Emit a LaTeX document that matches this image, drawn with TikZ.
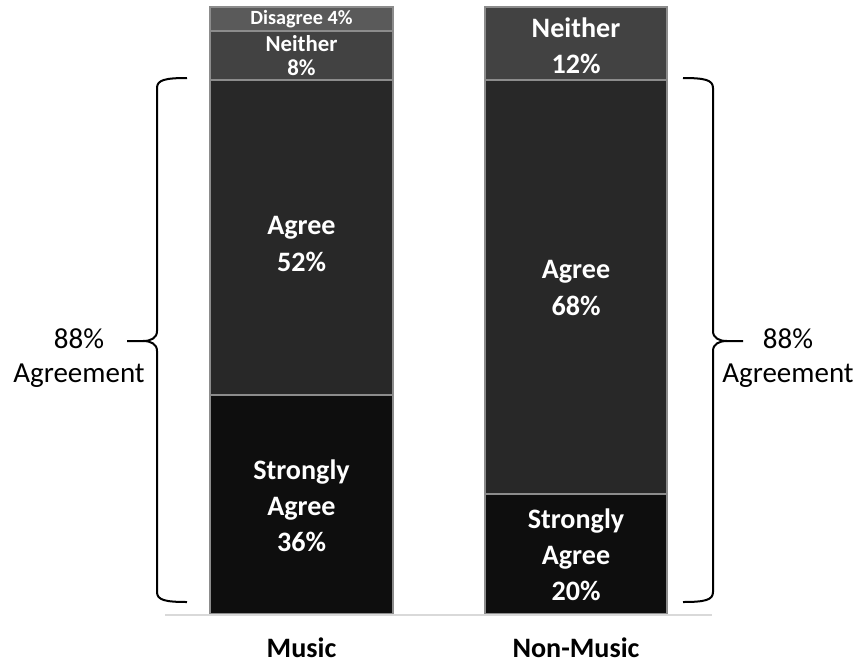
\documentclass[tikz,border=0pt]{standalone}
\usepackage{fontspec}
\setmainfont{Carlito}
\usepackage{xcolor}

\definecolor{discol}{HTML}{5A5A5A}
\definecolor{neicol}{HTML}{424242}
\definecolor{agrcol}{HTML}{282828}
\definecolor{strcol}{HTML}{0E0E0E}
\definecolor{sepcol}{HTML}{8C8C8C}
\definecolor{axiscol}{HTML}{D9D9D9}

\tikzset{
    segbox/.style={fill=#1, draw=sepcol, line width=0.03cm},
    segtext/.style={text=white, font=\bfseries\fontsize{16}{20.5}\selectfont, align=center},
    smalltext/.style={text=white, font=\bfseries\fontsize{11.5}{13.6}\selectfont, align=center},
    midtext/.style={text=white, font=\bfseries\fontsize{13}{13.6}\selectfont, align=center},
    sidetext/.style={font=\fontsize{16.5}{19.8}\selectfont, align=center},
    cattext/.style={font=\bfseries\fontsize{16}{19}\selectfont},
    braceline/.style={line width=0.04cm, line join=round},
    agreebrace/.pic={
        \draw[braceline] (30,-263) .. controls (8,-263) and (0,-261) .. (0,-253) -- (0,-10)
            .. controls (0,-3) and (-6,0) .. (-14,0) -- (-30,0);
        \draw[braceline] (-14,0) .. controls (-6,0) and (0,3) .. (0,10) -- (0,251)
            .. controls (0,259) and (8,261) .. (30,261);
    },
}

\begin{document}
\begin{tikzpicture}[x=0.02cm, y=-0.02cm]
    \useasboundingbox (0,0) rectangle (860,664);

    % Music
    \draw[segbox=discol] (210,7) rectangle (393,31);
    \draw[segbox=neicol] (210,31) rectangle (393,80);
    \draw[segbox=agrcol] (210,80) rectangle (393,395);
    \draw[segbox=strcol] (210,395) rectangle (393,614);
    \node[smalltext] (m-dis) at (301.5,19) {Disagree 4\%};
    \node[midtext] (m-nei) at (301.5,56) {Neither\\8\%};
    \node[segtext] (m-agr) at (301.5,244) {Agree\\52\%};
    \node[segtext] (m-str) at (301.5,506) {Strongly\\Agree\\36\%};

    % Non-Music
    \draw[segbox=neicol] (485,7) rectangle (667,80);
    \draw[segbox=agrcol] (485,80) rectangle (667,494);
    \draw[segbox=strcol] (485,494) rectangle (667,614);
    \node[segtext] (n-nei) at (576,46) {Neither\\12\%};
    \node[segtext] (n-agr) at (576,288) {Agree\\68\%};
    \node[segtext] (n-str) at (576,555) {Strongly\\Agree\\20\%};

    % axis and categories
    \coordinate (axis-l) at (165,615);
    \coordinate (axis-r) at (712,615);
    \draw[axiscol, line width=0.03cm] (axis-l) -- (axis-r);
    \node[cattext] (music) at (301.5,648) {Music};
    \node[cattext] (nonmusic) at (576,648) {Non-Music};

    % agreement braces
    \pic at (157,341) {agreebrace};
    \pic[xscale=-1] at (713,341) {agreebrace};
    \node[sidetext] (agree-l) at (79,358) {88\%\\Agreement};
    \node[sidetext] (agree-r) at (788,358) {88\%\\Agreement};
\end{tikzpicture}
\end{document}
